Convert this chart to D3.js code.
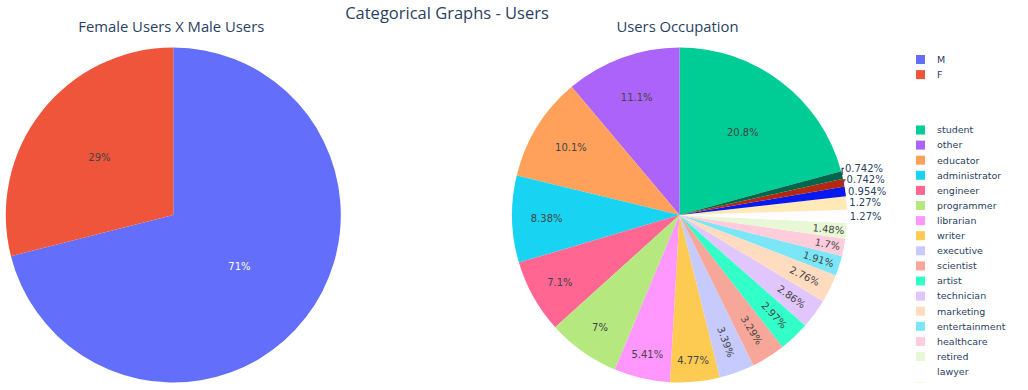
<!DOCTYPE html>
<html><head><meta charset="utf-8">
<script src="https://cdn.jsdelivr.net/npm/d3@7"></script>
<style>body{margin:0;background:#fff} svg{display:block}</style>
</head><body>
<svg id="c" width="1028" height="390"></svg>
<script>
// ---- data ----
const genderLabels = ["M", "F"];
const genderCounts = [670, 273];
const occLabels = ["student","other","educator","administrator","engineer","programmer","librarian","writer","executive","scientist","artist","technician","marketing","entertainment","healthcare","retired","lawyer","salesman","none","homemaker","doctor"];
const occCounts = [196,105,95,79,67,66,51,45,32,31,28,27,26,18,16,14,12,12,9,7,7];
const baseColorway = ["#636efa","#EF553B","#00cc96","#ab63fa","#FFA15A","#19d3f3","#FF6692","#B6E880","#FF97FF","#FECB52"];
const mainTitle = "Categorical Graphs - Users";
const subTitles = ["Female Users X Male Users", "Users Occupation"];

// ---- styles ----
const TITLE_COLOR = "#2a3f5f";
const SLICE_FONT = "DejaVu Sans";
const SLICE_SIZE = 10;
const TITLE_FONT = "'Open Sans', sans-serif";

// extended colorway (base, lighter, darker)
const extColors = baseColorway.slice();
baseColorway.forEach(c => { const h = d3.hsl(c); h.l = Math.min(1, h.l + 0.2); extColors.push(h.formatHex()); });
baseColorway.forEach(c => { const h = d3.hsl(c); h.l = Math.max(0, h.l - 0.2); extColors.push(h.formatHex()); });
const allLabels = genderLabels.concat(occLabels);
const colorScale = d3.scaleOrdinal().domain(allLabels).range(extColors);

const svg = d3.select("#c");
const fmt = d3.format(".3~g");

function isLight(c) {
  const r = d3.rgb(c);
  return (r.r * 299 + r.g * 587 + r.b * 114) / 1000 >= 128;
}

function calcMaxHalfSize(a, halfAngle, r, ring) {
  const q = a + 1 / (2 * Math.tan(halfAngle));
  return r * Math.min(1 / (Math.sqrt(q * q + 0.5) + q), ring / (Math.sqrt(a * a + ring / 2) + a));
}
function calcRCenter(a, b) { return Math.cos(b) - a * b; }
function calcRotate(t) { return (180 / Math.PI * t + 720) % 180 - 90; }

function drawPie(labels, counts, cx, cy, r) {
  const total = d3.sum(counts);
  const a0 = 2 * Math.PI * counts[0] / total;
  const arcs = d3.pie().sort(null).startAngle(a0).endAngle(a0 - 2 * Math.PI)(counts);
  const arcGen = d3.arc().innerRadius(0).outerRadius(r);
  const g = svg.append("g").attr("transform", `translate(${cx},${cy})`);
  g.selectAll("path.slice").data(arcs).join("path")
    .attr("class", "slice")
    .attr("d", arcGen)
    .attr("fill", (d, i) => colorScale(labels[i]));

  const textPad = 3;
  const outside = [];
  arcs.forEach((d, i) => {
    const v = counts[i];
    const txt = fmt(100 * v / total) + "%";
    const col = colorScale(labels[i]);
    const t = g.append("text")
      .attr("font-family", SLICE_FONT).attr("font-size", SLICE_SIZE)
      .attr("text-anchor", "middle").attr("dy", "0.35em")
      .text(txt);
    const bb = t.node().getBBox();
    const w = bb.width, h = bb.height;
    const mid = (d.startAngle + d.endAngle) / 2;
    const half = Math.PI * Math.min(v / total, 0.5);
    const rIns = v === total ? 1 : Math.min(1 / (1 + 1 / Math.sin(half)), 0.5);
    let tr = null;
    const diag = Math.sqrt(w * w + h * h);
    const hor = { scale: rIns * r * 2 / diag, rCenter: 1 - rIns, rotate: 0 };
    if (hor.scale >= 1) tr = hor;
    else {
      const rr = Math.max(0, r - 2 * textPad);
      const all = [hor];
      let a = w / h, s = calcMaxHalfSize(a, half, rr, 1);
      all.push({ scale: s * 2 / h, rCenter: calcRCenter(a, s / rr), rotate: calcRotate(mid) });
      a = h / w; s = calcMaxHalfSize(a, half, rr, 1);
      all.push({ scale: s * 2 / w, rCenter: calcRCenter(a, s / rr), rotate: calcRotate(mid + Math.PI / 2) });
      let best = all[0];
      all.forEach(x => { if (x.scale > best.scale) best = x; });
      if (best.scale >= 1) tr = best;
    }
    const px = r * Math.sin(mid), py = -r * Math.cos(mid);
    if (tr) {
      const tx = px * tr.rCenter, ty = py * tr.rCenter;
      t.attr("fill", isLight(col) ? "#444" : "#ffffff")
        .attr("transform", `translate(${tx},${ty}) rotate(${tr.rotate})`);
    } else {
      let dx = w / 2, dy = h / 2;
      if (px < 0) dx = -dx;
      if (py < 0) dy = -dy;
      const ox = dx + Math.abs(dy) * (dx > 0 ? 1 : -1) / 2;
      const oy = dy / (1 + px * px / (py * py));
      outside.push({ t, px, py, x: px + ox, y: py + oy, y0: py + oy, w, h });
    }
  });
  // scoot outside labels away from the horizontal midline within each quadrant
  const quads = d3.group(outside, o => (o.px >= 0 ? "R" : "L") + (o.py < 0 ? "T" : "B"));
  quads.forEach((list, key) => {
    const top = key[1] === "T";
    list.sort((a, b) => Math.abs(a.y) - Math.abs(b.y));
    for (let k = 1; k < list.length; k++) {
      const prev = list[k - 1], cur = list[k];
      const H = (prev.h + cur.h) / 2 + 0.4;
      if (top) cur.y = Math.min(cur.y, prev.y - H);
      else cur.y = Math.max(cur.y, prev.y + H);
    }
  });
  outside.forEach(o => {
    o.t.attr("fill", TITLE_COLOR).attr("transform", `translate(${o.x},${o.y})`);
    if (Math.abs(o.y - o.y0) > 0.01) {
      const edge = o.x + (o.px >= 0 ? -o.w / 2 - 1 : o.w / 2 + 1);
      g.append("path")
        .attr("d", `M${o.px},${o.py}V${o.y}H${edge}`)
        .attr("fill", "none").attr("stroke", TITLE_COLOR).attr("stroke-width", 1.2);
    }
  });
}

const R = 167.5;
drawPie(genderLabels, genderCounts, 173.3, 215, R);
drawPie(occLabels, occCounts, 679.5, 215, R);

// titles
svg.append("text").attr("x", 447).attr("y", 18.5).attr("text-anchor", "middle")
  .attr("font-family", TITLE_FONT).attr("font-size", 16.5).attr("fill", TITLE_COLOR).text(mainTitle);
[173.3, 679.5].forEach((x, i) => {
  svg.append("text").attr("x", x - 2).attr("y", 32.3).attr("text-anchor", "middle")
    .attr("font-family", TITLE_FONT).attr("font-size", 14.8).attr("fill", TITLE_COLOR).text(subTitles[i]);
});

// legend (scroll box clipped at the bottom, like the original)
const LEGEND_BOTTOM = 382.6;
svg.append("clipPath").attr("id", "legclip")
  .append("rect").attr("x", 900).attr("y", 0).attr("width", 128).attr("height", LEGEND_BOTTOM);
const legendItems = [];
genderLabels.forEach((l, i) => legendItems.push({ l, y: 59.5 + i * 15.1 }));
occLabels.forEach((l, i) => legendItems.push({ l, y: 130 + i * 15.1 }));
const lg = svg.append("g").attr("clip-path", "url(#legclip)");
legendItems.filter(it => it.y - 4.5 < LEGEND_BOTTOM).forEach(it => {
  lg.append("rect").attr("x", 916).attr("y", it.y - 4.5).attr("width", 9).attr("height", 9)
    .attr("fill", colorScale(it.l));
  if (it.y + 6 < LEGEND_BOTTOM) {
    lg.append("text").attr("x", 937).attr("y", it.y).attr("dy", "0.35em")
      .attr("font-family", SLICE_FONT).attr("font-size", 9.5).attr("fill", TITLE_COLOR).text(it.l);
  }
});
</script>
</body></html>
